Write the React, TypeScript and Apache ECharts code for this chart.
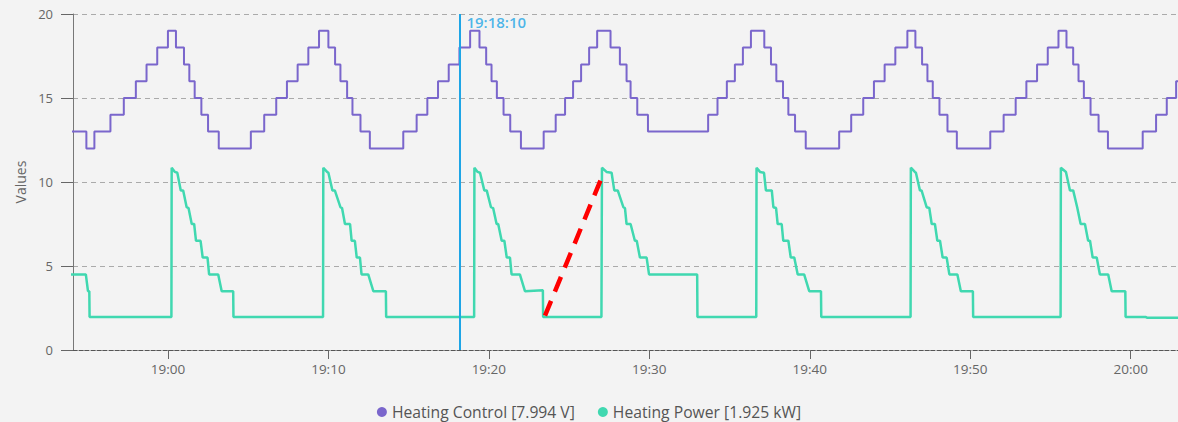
import React, { useEffect, useRef } from 'react';
import * as echarts from 'echarts';

const DAY = '2024-01-01';
const axisStart = '18:54:05';
const axisEnd = '20:02:57';
const markerTime = '19:18:10';
const yMin = 0;
const yMax = 20;
const yInterval = 5;
const xTickLabels = ['19:00', '19:10', '19:20', '19:30', '19:40', '19:50', '20:00'];

const controlName = 'Heating Control [7.994 V]';
const powerName = 'Heating Power [1.925 kW]';

const controlTimes = [
  '18:54:00', '18:54:55', '18:55:25', '18:56:25', '18:57:15', '18:58:00', '18:58:40', '18:59:20',
  '19:00:00', '19:00:30', '19:01:00', '19:01:20', '19:01:40', '19:02:05', '19:02:30', '19:03:10',
  '19:05:10', '19:06:00', '19:06:45', '19:07:25', '19:08:05', '19:08:45', '19:09:25', '19:10:00',
  '19:10:25', '19:10:45', '19:11:10', '19:11:30', '19:12:00', '19:12:35', '19:14:40', '19:15:30',
  '19:16:10', '19:16:50', '19:17:30', '19:18:10', '19:18:50', '19:19:25', '19:19:50', '19:20:10',
  '19:20:30', '19:20:55', '19:21:20', '19:22:00', '19:23:25', '19:24:10', '19:24:45', '19:25:15',
  '19:25:45', '19:26:15', '19:26:45', '19:27:35', '19:28:10', '19:28:35', '19:28:50', '19:29:15',
  '19:29:55', '19:33:40', '19:34:15', '19:34:50', '19:35:20', '19:35:50', '19:36:20', '19:37:10',
  '19:37:35', '19:37:55', '19:38:20', '19:38:40', '19:39:05', '19:39:45', '19:41:50', '19:42:35',
  '19:43:20', '19:44:00', '19:44:40', '19:45:20', '19:46:05', '19:46:35', '19:47:00', '19:47:20',
  '19:47:40', '19:48:05', '19:48:35', '19:49:10', '19:51:15', '19:52:05', '19:52:50', '19:53:30',
  '19:54:10', '19:54:50', '19:55:30', '19:56:00', '19:56:25', '19:56:45', '19:57:05', '19:57:30',
  '19:58:00', '19:58:35', '20:00:45', '20:01:35', '20:02:15', '20:02:50', '20:03:30',
];
const controlValues = [
  13, 12, 13, 14, 15, 16, 17, 18,
  19, 18, 17, 16, 15, 14, 13, 12,
  13, 14, 15, 16, 17, 18, 19, 18,
  17, 16, 15, 14, 13, 12, 13, 14,
  15, 16, 17, 18, 19, 18, 17, 16,
  15, 14, 13, 12, 13, 14, 15, 16,
  17, 18, 19, 18, 17, 16, 15, 14,
  13, 14, 15, 16, 17, 18, 19, 18,
  17, 16, 15, 14, 13, 12, 13, 14,
  15, 16, 17, 18, 19, 18, 17, 16,
  15, 14, 13, 12, 13, 14, 15, 16,
  17, 18, 19, 18, 17, 16, 15, 14,
  13, 12, 13, 14, 15, 16, 16,
];

const powerTimes = [
  '18:53:30', '18:54:53', '18:55:01', '18:55:06', '18:55:07',
  '19:00:13', '19:00:14', '19:00:26', '19:00:35', '19:00:48', '19:00:57', '19:01:10', '19:01:17',
  '19:01:29', '19:01:38', '19:01:45', '19:02:02', '19:02:10', '19:02:28', '19:02:34', '19:03:08',
  '19:03:21', '19:04:04', '19:04:05',
  '19:09:40', '19:09:41', '19:09:55', '19:10:00', '19:10:15', '19:10:24', '19:10:45', '19:10:51',
  '19:11:02', '19:11:21', '19:11:27', '19:11:39', '19:11:46', '19:11:58', '19:12:04', '19:12:29',
  '19:12:48', '19:13:35', '19:13:36',
  '19:19:05', '19:19:06', '19:19:18', '19:19:27', '19:19:43', '19:19:52', '19:20:08', '19:20:16',
  '19:20:29', '19:20:35', '19:20:48', '19:20:58', '19:21:07', '19:21:19', '19:21:25', '19:21:56',
  '19:22:15', '19:23:22', '19:23:23',
  '19:27:01', '19:27:03', '19:27:20', '19:27:39', '19:27:49', '19:28:02', '19:28:23', '19:28:29',
  '19:28:35', '19:28:50', '19:29:06', '19:29:13', '19:29:25', '19:29:50', '19:29:59', '19:32:59',
  '19:33:00',
  '19:36:40', '19:36:41', '19:36:54', '19:37:09', '19:37:16', '19:37:38', '19:37:44', '19:37:54',
  '19:38:00', '19:38:15', '19:38:21', '19:38:40', '19:38:49', '19:39:02', '19:39:15', '19:39:39',
  '19:39:58', '19:40:42', '19:40:43',
  '19:46:17', '19:46:18', '19:46:33', '19:46:37', '19:46:52', '19:46:58', '19:47:17', '19:47:27',
  '19:47:36', '19:47:48', '19:47:57', '19:48:07', '19:48:17', '19:48:32', '19:48:42', '19:49:12',
  '19:49:25', '19:50:10', '19:50:11',
  '19:55:38', '19:55:39', '19:55:58', '19:56:13', '19:56:25', '19:56:40', '19:56:53', '19:57:09',
  '19:57:21', '19:57:28', '19:57:38', '19:57:53', '19:58:05', '19:58:36', '19:58:49', '19:59:40',
  '19:59:41', '20:00:57', '20:01:01', '20:03:30',
];
const powerValues = [
  4.5, 4.5, 3.5, 3.5, 1.96,
  1.96, 10.85, 10.6, 10.55, 9.5, 9.5, 8.5, 8.45,
  7.5, 7.5, 6.5, 6.5, 5.5, 5.5, 4.5, 4.5,
  3.5, 3.5, 1.96,
  1.96, 10.85, 10.6, 10.55, 9.5, 9.5, 8.5, 8.45,
  7.5, 7.5, 6.5, 6.5, 5.5, 5.5, 4.5, 4.5,
  3.5, 3.5, 1.96,
  1.96, 10.85, 10.6, 10.55, 9.5, 9.5, 8.5, 8.45,
  7.5, 7.5, 6.5, 6.5, 5.5, 5.5, 4.5, 4.5,
  3.5, 3.55, 1.96,
  1.96, 10.85, 10.6, 10.55, 9.5, 9.5, 8.5, 8.45,
  7.5, 7.5, 6.5, 6.5, 5.5, 5.5, 4.5, 4.5,
  1.96,
  1.96, 10.85, 10.6, 10.55, 9.5, 9.5, 8.5, 8.45,
  7.5, 7.5, 6.5, 6.5, 5.5, 5.5, 4.5, 4.5,
  3.5, 3.5, 1.96,
  1.96, 10.85, 10.6, 10.55, 9.5, 9.5, 8.5, 8.45,
  7.5, 7.5, 6.5, 6.5, 5.5, 5.5, 4.5, 4.5,
  3.5, 3.5, 1.96,
  1.96, 10.85, 10.6, 9.5, 9.5, 8.5, 7.5, 7.5,
  6.5, 6.5, 5.5, 5.5, 4.5, 4.5, 3.5, 3.5,
  1.96, 1.96, 1.925, 1.925,
];

const annotationTimes = ['19:23:30', '19:27:06'];
const annotationValues = [2.04, 10.42];

const CONTROL_COLOR = '#7a66cc';
const POWER_COLOR = '#40d8b0';
const MARKER_COLOR = '#1ea5e6';
const FONT = 'Open Sans';

const toTs = (t: string) => new Date(`${DAY}T${t.length === 5 ? t + ':00' : t}`).getTime();
const pad = (n: number) => (n < 10 ? '0' + n : '' + n);

export default function App() {
  const ref = useRef<HTMLDivElement>(null);

  useEffect(() => {
    document.body.style.margin = '0';
    document.body.style.background = '#f3f3f3';
    if (!ref.current) return;
    const chart = echarts.init(ref.current, undefined, { renderer: 'svg' });

    const controlData = controlTimes.map((t, i) => [toTs(t), controlValues[i]]);
    const powerData = powerTimes.map((t, i) => [toTs(t), powerValues[i]]);
    const annotationData = annotationTimes.map((t, i) => [toTs(t), annotationValues[i]]);
    const markerTs = toTs(markerTime);
    const xTicks = xTickLabels.map(toTs);

    chart.setOption({
      animation: false,
      backgroundColor: '#f3f3f3',
      textStyle: { fontFamily: FONT },
      grid: { left: 73, right: 0, top: 14, bottom: 72, containLabel: false },
      legend: {
        data: [controlName, powerName],
        bottom: -3,
        icon: 'circle',
        itemWidth: 10,
        itemHeight: 10,
        itemGap: 23,
        textStyle: { fontSize: 15.7, color: '#555', fontFamily: FONT },
      },
      xAxis: {
        type: 'value',
        min: toTs(axisStart),
        max: toTs(axisEnd),
        splitLine: { show: false },
        axisLine: { show: true, onZero: false, lineStyle: { color: '#555', type: [4, 2], width: 1 } },
        axisTick: { show: true, length: 9, lineStyle: { color: '#666' }, customValues: xTicks },
        axisLabel: {
          color: '#666',
          fontSize: 13.5,
          margin: 12,
          customValues: xTicks,
          formatter: (v: number) => {
            const d = new Date(v);
            return pad(d.getHours()) + ':' + pad(d.getMinutes());
          },
        },
      },
      yAxis: {
        type: 'value',
        min: yMin,
        max: yMax,
        interval: yInterval,
        name: 'Values',
        nameLocation: 'middle',
        nameGap: 46,
        nameTextStyle: { color: '#666', fontSize: 14 },
        axisLine: { show: true, lineStyle: { color: '#777' } },
        axisTick: { show: true, length: 12, lineStyle: { color: '#666' } },
        axisLabel: { color: '#666', fontSize: 13, margin: 20 },
        splitLine: { show: true, lineStyle: { color: '#aaa', type: [5, 4] } },
      },
      series: [
        {
          name: controlName,
          type: 'line',
          step: 'end',
          symbol: 'none',
          data: controlData,
          itemStyle: { color: CONTROL_COLOR },
          lineStyle: { color: CONTROL_COLOR, width: 2 },
        },
        {
          name: powerName,
          type: 'line',
          symbol: 'none',
          data: powerData,
          itemStyle: { color: POWER_COLOR },
          lineStyle: { color: POWER_COLOR, width: 2.5 },
        },
        {
          name: 'annotation',
          type: 'line',
          symbol: 'none',
          silent: true,
          z: 5,
          data: annotationData,
          lineStyle: { color: '#ff0000', width: 4.5, type: [16, 10] },
        },
        {
          name: 'marker',
          type: 'scatter',
          symbolSize: 0,
          silent: true,
          z: 6,
          data: [[markerTs, yMax]],
          label: {
            show: true,
            position: 'right',
            distance: 7,
            offset: [0, 8],
            formatter: markerTime,
            color: MARKER_COLOR,
            fontSize: 15,
            fontWeight: 600,
            fontFamily: FONT,
          },
          markLine: {
            silent: true,
            symbol: ['none', 'none'],
            label: { show: false },
            lineStyle: { color: MARKER_COLOR, width: 2, type: 'solid' },
            data: [{ xAxis: markerTs }],
          },
        },
      ],
    });

    return () => chart.dispose();
  }, []);

  return <div ref={ref} style={{ width: 1178, height: 422, background: '#f3f3f3' }} />;
}
